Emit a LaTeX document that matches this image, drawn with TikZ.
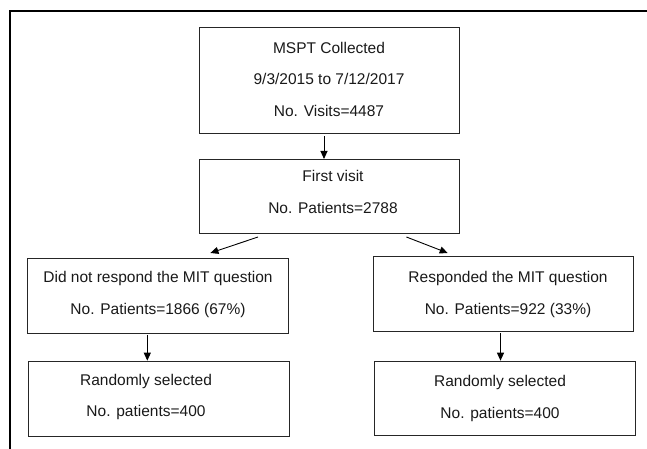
\documentclass[tikz,border=0pt]{standalone}
\usepackage{fontspec}
\setmainfont{Liberation Sans}
\usetikzlibrary{arrows.meta,calc}
\begin{document}
\begin{tikzpicture}[x=1pt,y=1pt,
  boxstyle/.style={draw=black!85,line width=1pt,inner sep=0pt,anchor=south west},
  txt/.style={align=center,inner sep=0pt,font=\fontsize{15.5}{31.5}\selectfont,text=black!90},
  conn/.style={line width=0.9pt,-{Triangle[length=8pt,width=7pt]}}]
\useasboundingbox (0,0) rectangle (647,449);
% frame
\draw[line width=2pt] (10,0) -- (10,438) -- (647,438);
% boxes
\node[boxstyle,minimum width=260pt,minimum height=106pt] (b1) at (199,314.7) {};
\node[boxstyle,minimum width=260pt,minimum height=74.3pt] (b2) at (199,214.7) {};
\node[boxstyle,minimum width=261pt,minimum height=74.7pt] (b3) at (27,115) {};
\node[boxstyle,minimum width=260.7pt,minimum height=75pt] (b4) at (372.6,116.7) {};
\node[boxstyle,minimum width=261.2pt,minimum height=75pt] (b5) at (27.6,12.3) {};
\node[boxstyle,minimum width=260.4pt,minimum height=74.3pt] (b6) at (374.2,13) {};
% texts
\node[txt] (t1) at (329,370) {MSPT Collected\\9/3/2015 to 7/12/2017\\No. Visits=4487};
\node[txt] (t2) at (333,257) {First visit\\No. Patients=2788};
\node[txt] (t3) at (158,154.5) {Did not respond the MIT question\\No. Patients=1866 (67\%)};
\node[txt] (t4) at (508,154.3) {Responded the MIT question\\No. Patients=922 (33\%)};
\node[txt] (t5) at (146,52) {Randomly selected\\No. patients=400};
\node[txt] (t6) at (500,50.5) {Randomly selected\\No. patients=400};
% connectors
\draw[conn] ($(b1.south west)+(125,-2)$) -- ($(b2.north west)+(125,0)$);
\draw[conn] ($(b2.south west)+(59,-2.7)$) -- ($(b3.north west)+(183.4,5.3)$);
\draw[conn] ($(b2.south west)+(207.4,-2.7)$) -- ($(b4.north west)+(75.1,3.3)$);
\draw[conn] ($(b3.south west)+(120.3,-1)$) -- ($(b5.north west)+(119.7,0)$);
\draw[conn] ($(b4.south west)+(127.9,-1)$) -- ($(b6.north west)+(126.3,0)$);
\end{tikzpicture}
\end{document}
